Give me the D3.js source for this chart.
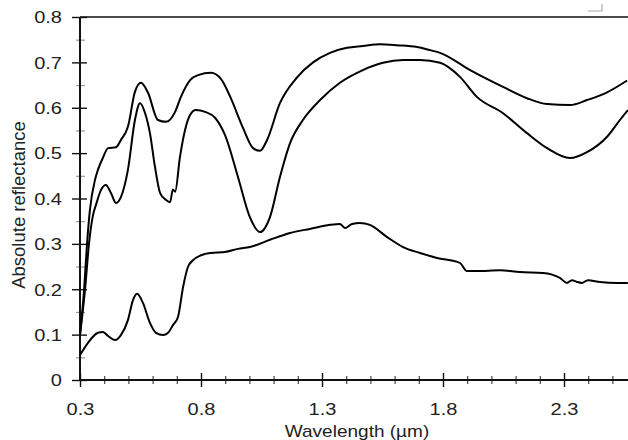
<!DOCTYPE html>
<html>
<head>
<meta charset="utf-8">
<script src="https://cdn.jsdelivr.net/npm/d3@7"></script>
<style>
  body { margin: 0; background: #fff; }
  svg { display: block; }
  text { font-family: "Liberation Sans", Arial, sans-serif; fill: #222; }
</style>
</head>
<body>
<div id="chart"></div>
<script>
// reflectance spectra (wavelength in µm, reflectance 0-1)
var upperWl = [0.300, 0.317, 0.329, 0.341, 0.362, 0.374, 0.395, 0.416, 0.449, 0.469, 0.498, 0.527, 0.552,
  0.581, 0.622, 0.655, 0.693, 0.717, 0.755, 0.788, 0.841, 0.883, 0.920, 0.974, 1.015, 1.044,
  1.073, 1.126, 1.197, 1.263, 1.333, 1.403, 1.469, 1.540, 1.610, 1.693, 1.746, 1.788, 1.912, 2.048,
  2.147, 2.230, 2.325, 2.395, 2.478, 2.561];
var upperR = [0.100, 0.200, 0.300, 0.375, 0.441, 0.463, 0.490, 0.511, 0.513, 0.529, 0.558, 0.635, 0.655,
  0.633, 0.573, 0.569, 0.591, 0.624, 0.661, 0.672, 0.677, 0.663, 0.625, 0.555, 0.511, 0.505,
  0.529, 0.610, 0.667, 0.700, 0.721, 0.732, 0.736, 0.740, 0.738, 0.734, 0.727, 0.721, 0.683, 0.646,
  0.621, 0.608, 0.606, 0.617, 0.634, 0.660];

var middleWl = [0.300, 0.321, 0.337, 0.354, 0.366, 0.387, 0.407, 0.428, 0.449, 0.469, 0.498, 0.527,
  0.548, 0.569, 0.589, 0.610, 0.631, 0.655, 0.672, 0.684, 0.693, 0.713, 0.734, 0.755, 0.779, 0.817,
  0.858, 0.899, 0.953, 1.002, 1.044, 1.085, 1.126, 1.168, 1.221, 1.292, 1.374, 1.469, 1.552, 1.635,
  1.705, 1.788, 1.870, 1.940, 2.048, 2.147, 2.230, 2.325, 2.395, 2.478, 2.531, 2.564];
var middleR = [0.100, 0.200, 0.300, 0.364, 0.386, 0.419, 0.430, 0.412, 0.390, 0.403, 0.463, 0.573,
  0.610, 0.588, 0.544, 0.469, 0.412, 0.397, 0.392, 0.420, 0.415, 0.491, 0.551, 0.584, 0.595, 0.591,
  0.578, 0.540, 0.447, 0.359, 0.326, 0.359, 0.447, 0.522, 0.573, 0.617, 0.655, 0.683, 0.699, 0.705,
  0.705, 0.699, 0.668, 0.624, 0.588, 0.544, 0.511, 0.489, 0.502, 0.536, 0.573, 0.595];

var lowerWl = [0.300, 0.333, 0.374, 0.395, 0.416, 0.445, 0.469, 0.498, 0.519, 0.536, 0.560, 0.589,
  0.614, 0.643, 0.664, 0.684, 0.705, 0.726, 0.746, 0.767, 0.800, 0.841, 0.899, 0.953, 1.002, 1.085,
  1.168, 1.250, 1.333, 1.374, 1.395, 1.424, 1.457, 1.498, 1.569, 1.635, 1.705, 1.775, 1.870, 1.899,
  1.940, 2.036, 2.118, 2.213, 2.283, 2.312, 2.333, 2.354, 2.374, 2.399, 2.449, 2.519, 2.564];
var lowerR = [0.055, 0.082, 0.104, 0.106, 0.097, 0.088, 0.099, 0.132, 0.176, 0.190, 0.170, 0.126,
  0.104, 0.099, 0.104, 0.121, 0.139, 0.205, 0.249, 0.264, 0.275, 0.280, 0.282, 0.289, 0.293, 0.309,
  0.324, 0.333, 0.342, 0.344, 0.335, 0.344, 0.346, 0.342, 0.315, 0.293, 0.280, 0.269, 0.258, 0.240,
  0.240, 0.242, 0.238, 0.236, 0.225, 0.214, 0.220, 0.216, 0.214, 0.220, 0.216, 0.214, 0.214];

var xMajor = [0.3, 0.8, 1.3, 1.8, 2.3];
var yMajor = [0, 0.1, 0.2, 0.3, 0.4, 0.5, 0.6, 0.7, 0.8];

var width = 628, height = 440;
var plotLeft = 80, plotTop = 17, plotBottom = 380;

// x runs to 2.6 but the right end falls outside the picture
var x = d3.scaleLinear().domain([0.3, 2.6]).range([plotLeft, plotLeft + 2.3 * 242]);
var y = d3.scaleLinear().domain([0, 0.8]).range([plotBottom, plotTop]);

var svg = d3.select("#chart").append("svg")
  .attr("width", width)
  .attr("height", height);

// minor ticks
var xMinor = d3.range(3, 27).map(function(d) { return d / 10; })
  .filter(function(d) { return xMajor.indexOf(d) < 0; });
var yMinor = d3.range(0, 8).map(function(d) { return d / 10 + 0.05; });

svg.append("g")
  .attr("transform", "translate(0," + plotBottom + ")")
  .call(d3.axisBottom(x).tickValues(xMinor).tickFormat("").tickSizeOuter(0))
  .call(function(g) {
    g.select(".domain").remove();
    g.selectAll("line").attr("y1", -4).attr("y2", 4).attr("stroke", "#444").attr("stroke-width", 1.2);
  });

svg.append("g")
  .attr("transform", "translate(" + plotLeft + ",0)")
  .call(d3.axisLeft(y).tickValues(yMinor).tickFormat("").tickSizeOuter(0))
  .call(function(g) {
    g.select(".domain").remove();
    g.selectAll("line").attr("x1", -4).attr("x2", 5).attr("stroke", "#999").attr("stroke-width", 1.2);
  });

// major axes
var xAxis = svg.append("g")
  .attr("transform", "translate(0," + plotBottom + ")")
  .call(d3.axisBottom(x).tickValues(xMajor).tickFormat(d3.format(".1f")).tickSizeOuter(0));
xAxis.select(".domain").attr("d", "M" + plotLeft + ",0H" + width).attr("stroke", "#111").attr("stroke-width", 2);
xAxis.selectAll("line").attr("y1", -7).attr("y2", 7).attr("stroke", "#111").attr("stroke-width", 1.4);
xAxis.selectAll("text")
  .attr("y", 0).attr("dy", 0)
  .attr("transform", "translate(0,35) scale(1.25,1)")
  .style("font-size", "16px");

var yAxis = svg.append("g")
  .attr("transform", "translate(" + plotLeft + ",0)")
  .call(d3.axisLeft(y).tickValues(yMajor).tickFormat(function(d) { return d === 0 ? "0" : d3.format(".1f")(d); }).tickSizeOuter(0));
yAxis.select(".domain").attr("d", "M0," + plotBottom + "V" + plotTop).attr("stroke", "#111").attr("stroke-width", 2);
yAxis.selectAll("line").attr("x1", -8).attr("x2", 7).attr("stroke", "#111").attr("stroke-width", 1.4);
yAxis.selectAll("text")
  .attr("x", 0).attr("dy", "0.36em")
  .attr("transform", "translate(-18,0) scale(1.25,1)")
  .style("font-size", "16px");

// top frame line
svg.append("line")
  .attr("x1", plotLeft).attr("x2", width)
  .attr("y1", plotTop).attr("y2", plotTop)
  .attr("stroke", "#111").attr("stroke-width", 1.5);

// little corner mark near the top right
svg.append("path")
  .attr("d", "M588,11H602V4")
  .attr("fill", "none").attr("stroke", "#aaa").attr("stroke-width", 1.2);

// axis titles
svg.append("text")
  .attr("transform", "translate(357,437) scale(1.12,1)")
  .attr("text-anchor", "middle")
  .style("font-size", "17px")
  .text("Wavelength (µm)");

svg.append("text")
  .attr("transform", "translate(25,205) rotate(-90)")
  .attr("text-anchor", "middle")
  .style("font-size", "18.5px")
  .text("Absolute reflectance");

// spectra
var line = d3.line()
  .x(function(d) { return x(d[0]); })
  .y(function(d) { return y(d[1]); })
  .curve(d3.curveMonotoneX);

[[upperWl, upperR], [middleWl, middleR], [lowerWl, lowerR]].forEach(function(s) {
  svg.append("path")
    .datum(d3.zip(s[0], s[1]))
    .attr("fill", "none")
    .attr("stroke", "#000")
    .attr("stroke-width", 2)
    .attr("stroke-linejoin", "round")
    .attr("d", line);
});
</script>
</body>
</html>
